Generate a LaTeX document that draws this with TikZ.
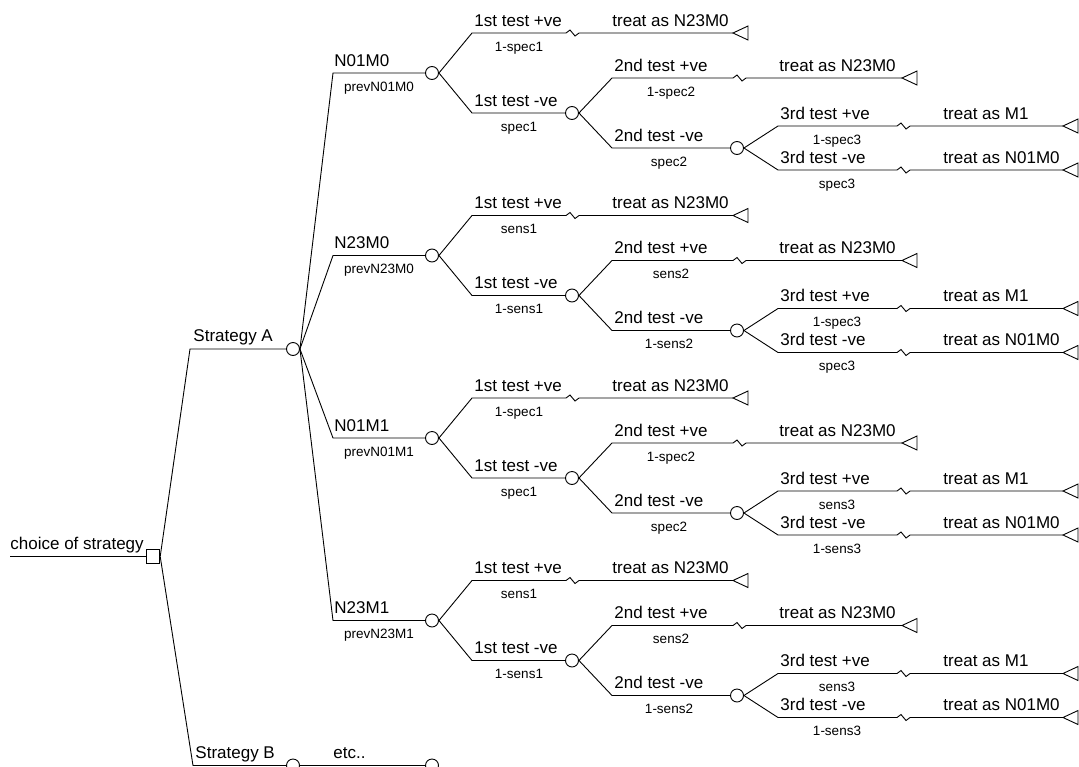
\documentclass[tikz,border=0pt]{standalone}
\usepackage{fontspec}
\setmainfont{Liberation Sans}
\usetikzlibrary{positioning}
\tikzset{x=1pt,y=-1pt,
  chance/.style={draw,circle,fill=white,minimum size=13pt,inner sep=0pt},
  decision/.style={draw,rectangle,fill=white,minimum size=13.5pt,inner sep=0pt},
  lab/.style={inner sep=0pt,font=\fontsize{17}{20}\selectfont},
  plab/.style={inner sep=0pt,font=\fontsize{13.5}{16}\selectfont}}
% break mark on a terminal branch
\newcommand{\brk}{-- ++(4,-3) -- ++(5,6) -- ++(4,-3)}

\begin{document}
\begin{tikzpicture}[line width=0.9pt]
\useasboundingbox (0,0) rectangle (1079,766);
% root and strategies
\node[decision] (root) at (153,556.5){};
\coordinate (r0) at (10,556.5);
\draw (r0) -- (root);
\node[lab,anchor=base west] (rl) at (10,549){choice of strategy};
\node[chance] (A) at (293,349){};
\coordinate (sA) at (190,349);
\draw (root.east) -- (sA) -- (A);
\node[lab,anchor=base west] (Al) at (193,341){Strategy A};
\node[chance] (B) at (293,765.5){};
\coordinate (sB) at (193,765.5);
\draw (root.east) -- (sB) -- (B);
\node[lab,anchor=base west] (Bl) at (195,758.5){Strategy B};
\node[chance] (E) at (432,765.5){};
\draw (B.east) -- (E);
\node[lab,anchor=base west] (El) at (333,758.5){etc..};
% one subtree per prior state
\foreach \k/\nm/\pa/\pb/\pc/\pd/\pe/\pf in {
  0/N01M0/1-spec1/spec1/1-spec2/spec2/1-spec3/spec3,
  1/N23M0/sens1/1-sens1/sens2/1-sens2/1-spec3/spec3,
  2/N01M1/1-spec1/spec1/1-spec2/spec2/sens3/1-sens3,
  3/N23M1/sens1/1-sens1/sens2/1-sens2/sens3/1-sens3}{
  \pgfmathsetmacro\Y{73+182.5*\k}
  % prior state
  \node[chance] (c1\k) at (432,\Y){};
  \coordinate (s1\k) at (333,\Y);
  \draw (A.east) -- (s1\k) -- (c1\k);
  \node[lab,anchor=base west] (n\k) at (334,\Y-7){\nm};
  \node[plab,anchor=base] (pr\k) at (379,\Y+18){prev\nm};
  % 1st test
  \coordinate (p1\k) at (472,\Y-40); \coordinate (z1\k) at (566,\Y-40);
  \coordinate (t1\k) at (733,\Y-40);
  \draw (c1\k.east) -- (p1\k) -- (z1\k) \brk -- (t1\k);
  \draw (t1\k) -- ++(15,-7) -- ++(0,14) -- cycle;
  \node[lab,anchor=base west] (a1\k) at (474,\Y-47){1st test +ve};
  \node[plab,anchor=base] (pa\k) at (519,\Y-22){\pa};
  \node[lab,anchor=base west] (r1\k) at (612,\Y-47){treat as N23M0};
  \node[chance] (c2\k) at (572,\Y+40){};
  \coordinate (q1\k) at (472,\Y+40);
  \draw (c1\k.east) -- (q1\k) -- (c2\k);
  \node[lab,anchor=base west] (b1\k) at (474,\Y+33){1st test -ve};
  \node[plab,anchor=base] (pb\k) at (519,\Y+58){\pb};
  % 2nd test
  \coordinate (p2\k) at (612,\Y+5); \coordinate (z2\k) at (733,\Y+5);
  \coordinate (t2\k) at (902,\Y+5);
  \draw (c2\k.east) -- (p2\k) -- (z2\k) \brk -- (t2\k);
  \draw (t2\k) -- ++(15,-7) -- ++(0,14) -- cycle;
  \node[lab,anchor=base west] (a2\k) at (614,\Y-2){2nd test +ve};
  \node[plab,anchor=base] (pc\k) at (671,\Y+23){\pc};
  \node[lab,anchor=base west] (r2\k) at (779,\Y-2){treat as N23M0};
  \node[chance] (c3\k) at (737,\Y+75){};
  \coordinate (q2\k) at (612,\Y+75);
  \draw (c2\k.east) -- (q2\k) -- (c3\k);
  \node[lab,anchor=base west] (b2\k) at (614,\Y+68){2nd test -ve};
  \node[plab,anchor=base] (pd\k) at (669,\Y+93){\pd};
  % 3rd test
  \coordinate (p3\k) at (778,\Y+53); \coordinate (z3\k) at (897,\Y+53);
  \coordinate (t3\k) at (1063,\Y+53);
  \draw (c3\k.east) -- (p3\k) -- (z3\k) \brk -- (t3\k);
  \draw (t3\k) -- ++(15,-7) -- ++(0,14) -- cycle;
  \node[lab,anchor=base west] (a3\k) at (780,\Y+46){3rd test +ve};
  \node[plab,anchor=base] (pe\k) at (837,\Y+71){\pe};
  \node[lab,anchor=base west] (r3\k) at (943,\Y+46){treat as M1};
  \coordinate (q3\k) at (778,\Y+97); \coordinate (w3\k) at (897,\Y+97);
  \coordinate (u3\k) at (1063,\Y+97);
  \draw (c3\k.east) -- (q3\k) -- (w3\k) \brk -- (u3\k);
  \draw (u3\k) -- ++(15,-7) -- ++(0,14) -- cycle;
  \node[lab,anchor=base west] (b3\k) at (780,\Y+90){3rd test -ve};
  \node[plab,anchor=base] (pf\k) at (837,\Y+115){\pf};
  \node[lab,anchor=base west] (s3\k) at (943,\Y+90){treat as N01M0};
}
\end{tikzpicture}
\end{document}
